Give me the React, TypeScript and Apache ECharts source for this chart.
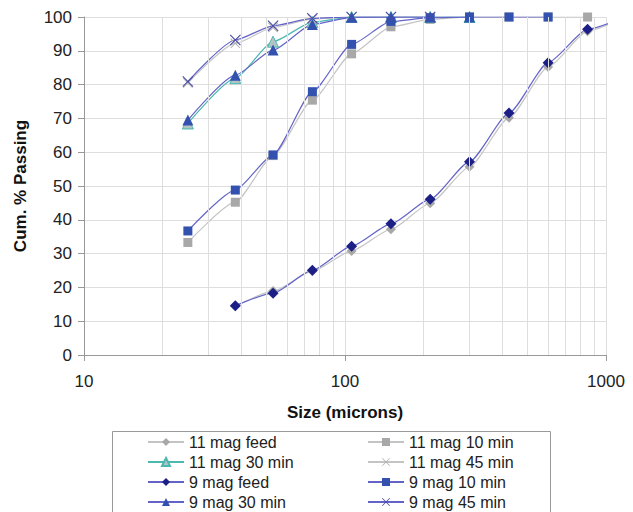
import React, { useEffect, useRef } from "react";
import * as echarts from "echarts";

const sieveSizes = [25, 38, 53, 75, 106, 150, 212, 300, 425, 600, 850, 1180];

const feed11 = [null, 14.4, 18.9, 24.8, 30.8, 37.2, 44.9, 55.7, 70.2, 85.2, 95.8, 100];
const min10_11 = [33.3, 45.2, 59.0, 75.4, 89.1, 97.1, 99.3, 100, 100, 100, 100, null];
const min30_11 = [68.5, 81.9, 92.7, 98.5, 100, 100, 100, 100, null, null, null, null];
const min45_11 = [80.5, 92.2, 96.9, 99.4, 100, 100, 100, null, null, null, null, null];
const feed9 = [null, 14.6, 18.3, 25.1, 32.2, 38.8, 46.1, 57.2, 71.6, 86.5, 96.4, 100];
const min10_9 = [36.7, 48.8, 59.2, 77.9, 91.9, 98.7, 99.8, 100, 100, 100, null, null];
const min30_9 = [69.5, 82.8, 90.2, 97.8, 99.9, 100, 100, 100, null, null, null, null];
const min45_9 = [80.9, 93.2, 97.4, 99.6, 100, 100, 100, null, null, null, null, null];

const minorGrid = [20, 30, 40, 50, 60, 70, 80, 90, 200, 300, 400, 500, 600, 700, 800, 900];
const legendCol1 = ["11 mag feed", "11 mag 30 min", "9 mag feed", "9 mag 30 min"];
const legendCol2 = ["11 mag 10 min", "11 mag 45 min", "9 mag 10 min", "9 mag 45 min"];

const X_PATH =
  "path://M0,0.7 L0.7,0 L5,4.3 L9.3,0 L10,0.7 L5.7,5 L10,9.3 L9.3,10 L5,5.7 L0.7,10 L0,9.3 L4.3,5 Z";

function pairs(vals: (number | null)[]) {
  const out: [number, number][] = [];
  vals.forEach((v, i) => {
    if (v !== null) out.push([sieveSizes[i], v]);
  });
  return out;
}

const FONT = "Liberation Sans, Arial, sans-serif";

export default function App() {
  const ref = useRef<HTMLDivElement>(null);
  useEffect(() => {
    document.body.style.margin = "0";
    if (!ref.current) return;
    const chart = echarts.init(ref.current, undefined, { renderer: "svg" });

    const mk = (
      name: string,
      vals: (number | null)[],
      symbol: string,
      size: number,
      lineColor: string,
      markColor: string,
      border?: string
    ) => ({
      name,
      type: "line",
      data: pairs(vals),
      symbol,
      symbolSize: size,
      smooth: 0.2,
      smoothMonotone: "x",
      clip: true,
      lineStyle: { color: lineColor, width: 1.2 },
      itemStyle: border
        ? { color: markColor, borderColor: border, borderWidth: 1 }
        : { color: markColor },
      z: 3,
    });

    const grey = "#a8a8a8";
    const greyLine = "#c4c4c4";
    const blueLine = "#6464c8";

    const legendBase = {
      orient: "vertical",
      top: 432,
      height: 100,
      padding: 0,
      itemWidth: 36,
      itemHeight: 10,
      itemGap: 0,
      textStyle: { fontFamily: FONT, fontSize: 16, color: "#222", lineHeight: 20 },
    };

    chart.setOption({
      animation: false,
      grid: { left: 84, right: 27, top: 17, bottom: 157 },
      xAxis: {
        type: "log",
        logBase: 10,
        min: 10,
        max: 1000,
        name: "Size (microns)",
        nameLocation: "middle",
        nameGap: 49,
        nameTextStyle: { fontFamily: FONT, fontSize: 17, fontWeight: "bold", color: "#111" },
        axisLine: { lineStyle: { color: "#999" } },
        axisTick: { show: true, length: 6, lineStyle: { color: "#999" } },
        axisLabel: {
          fontFamily: FONT,
          fontSize: 17,
          color: "#222",
          margin: 18,
          formatter: (v: number) => String(Math.round(v)),
        },
        splitLine: { show: true, lineStyle: { color: "#dedede" } },
      },
      yAxis: {
        type: "value",
        min: 0,
        max: 100,
        interval: 10,
        name: "Cum. % Passing",
        nameLocation: "middle",
        nameGap: 55,
        nameTextStyle: { fontFamily: FONT, fontSize: 17, fontWeight: "bold", color: "#111" },
        axisLine: { show: true, lineStyle: { color: "#999" } },
        axisTick: { show: true, length: 6, lineStyle: { color: "#999" } },
        axisLabel: { fontFamily: FONT, fontSize: 17, color: "#222", margin: 12 },
        splitLine: { show: true, lineStyle: { color: "#dedede" } },
      },
      legend: [
        { ...legendBase, data: legendCol1, left: 147 },
        { ...legendBase, data: legendCol2, left: 367 },
      ],
      graphic: [
        {
          type: "rect",
          shape: { x: 112.5, y: 431.5, width: 438, height: 100 },
          style: { fill: "none", stroke: "#999", lineWidth: 1 },
          silent: true,
        },
      ],
      series: [
        {
          name: "grid",
          type: "line",
          data: [],
          z: 1,
          markLine: {
            silent: true,
            symbol: "none",
            label: { show: false },
            lineStyle: { color: "#dedede", type: "solid", width: 1 },
            data: minorGrid.map((v) => ({ xAxis: v })),
          },
        },
        mk("11 mag feed", feed11, "diamond", 10, greyLine, grey),
        mk("11 mag 10 min", min10_11, "rect", 9, greyLine, grey),
        mk("11 mag 30 min", min30_11, "triangle", 11, "#4cb8b0", "#b4c4c4", "#4cb8b0"),
        mk("11 mag 45 min", min45_11, X_PATH, 10, greyLine, "#b0b0b0"),
        mk("9 mag feed", feed9, "diamond", 11, blueLine, "#1c1f86"),
        mk("9 mag 10 min", min10_9, "rect", 9, blueLine, "#3352b0"),
        mk("9 mag 30 min", min30_9, "triangle", 11, blueLine, "#3352b0"),
        mk("9 mag 45 min", min45_9, X_PATH, 11, blueLine, "#4848a8"),
      ],
    });
    return () => chart.dispose();
  }, []);

  return <div ref={ref} style={{ width: 633, height: 512 }} />;
}
